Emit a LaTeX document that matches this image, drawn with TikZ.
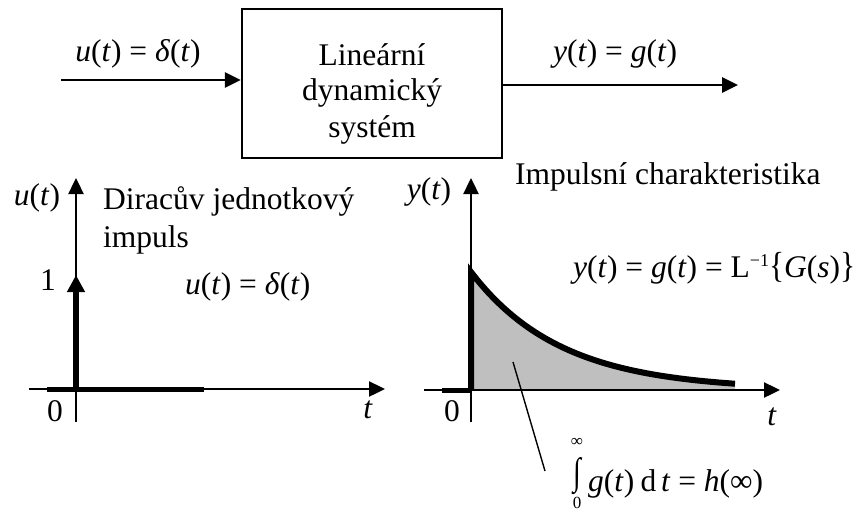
\documentclass[tikz,border=0pt]{standalone}
\usepackage{fontspec}
\usepackage{graphicx}
\setmainfont{Liberation Serif}
\usetikzlibrary{arrows.meta}
\newcommand\vi[1]{\textit{#1}}
\newcommand\qe{\hspace{0.25em}=\hspace{0.25em}}
\newcommand\limfont{\fontsize{17}{19}\selectfont}
\begin{document}
\begin{tikzpicture}[x=1pt,y=-1pt,
  txt/.style={inner sep=0pt, font=\fontsize{31.5}{36}\selectfont},
  arr/.style={line width=2.8pt, -{Triangle[length=16pt,width=15pt]}},
  axis/.style={line width=2.4pt, -{Triangle[length=16pt,width=15pt]}},
  heavy/.style={line width=6pt},
]
\useasboundingbox (0,0) rectangle (862,512);

% ---- block diagram ----
\node[draw, line width=2.5pt, minimum width=260pt, minimum height=149pt, inner sep=0pt] (box) at (372,83.5) {};
\node[txt, anchor=base] (l1) at (372,65) {Lineární};
\node[txt, anchor=base] (l2) at (372,100) {dynamický};
\node[txt, anchor=base] (l3) at (372,137) {systém};
\coordinate (instart) at (61,80);
\coordinate (outend) at (738,85);
\draw[arr] (instart) -- (instart -| box.west);
\draw[arr] (box.east |- outend) -- (outend);
\node[txt, anchor=base] (inlab) at (138,61) {\vi{u}(\vi{t}\/)\qe\vi{δ}(\vi{t}\/)};
\node[txt, anchor=base] (outlab) at (615,61) {\vi{y}(\vi{t}\/)\qe\vi{g}(\vi{t}\/)};

% ---- left plot ----
\coordinate (lo) at (76,389);
\coordinate (lybot) at (76,422);
\coordinate (lytop) at (76,178);
\coordinate (lxl) at (29,389);
\coordinate (lxr) at (385,389);
\coordinate (lsegl) at (47,389);
\coordinate (lsegr) at (204,389);
\coordinate (limp) at (76,275);
\draw[axis] (lybot) -- (lytop);
\draw[axis] (lxl) -- (lxr);
\draw[line width=5pt] (lsegl) -- (lsegr);
\draw[line width=6pt, -{Triangle[length=17pt,width=17pt]}] (lo) -- (limp);
\node[txt, anchor=base] (lu) at (37,205) {\vi{u}(\vi{t}\/)};
\node[txt, anchor=base west] (dir1) at (103,209) {Diracův jednotkový};
\node[txt, anchor=base west] (dir2) at (103,247) {impuls};
\node[txt, anchor=base] (one) at (48,290) {1};
\node[txt, anchor=base west] (ldelta) at (185,294) {\vi{u}(\vi{t}\/)\qe\vi{δ}(\vi{t}\/)};
\node[txt, anchor=base] (lzero) at (55,421) {0};
\node[txt, anchor=base] (lt) at (368,418) {\vi{t}};

% ---- right plot ----
\coordinate (ro) at (471,390);
\coordinate (rybot) at (471,422);
\coordinate (rytop) at (471,178);
\coordinate (rxl) at (424,390);
\coordinate (rxr) at (780,390);
\coordinate (rsegl) at (442,390);
\coordinate (rtop) at (471,272);
\fill[black!25] (ro) -- (rtop) -- plot[domain=0:264, samples=80] ({471+\x},{390-118*exp(-\x/90)}) -- (735,390) -- cycle;
\draw[axis] (rybot) -- (rytop);
\draw[axis] (rxl) -- (rxr);
\draw[line width=5pt] (rsegl) -- (ro);
\draw[heavy, line join=miter] (ro) -- (rtop) -- plot[domain=0:264, samples=80] ({471+\x},{390-118*exp(-\x/90)});
\node[txt, anchor=base west] (imp) at (515,184) {Impulsní charakteristika};
\node[txt, anchor=base] (ry) at (429,199) {\vi{y}(\vi{t}\/)};
\node[txt, anchor=base] (rzero) at (452,421) {0};
\node[txt, anchor=base] (rt) at (772,425) {\vi{t}};
\node[txt, anchor=base west] (laplace) at (573,277) {\vi{y}(\vi{t}\/)\qe\vi{g}(\vi{t}\/)\qe L\raisebox{0.75ex}{\fontsize{18}{18}\selectfont −1}\scalebox{1}[1.15]{\{}\vi{G}(\vi{s})\scalebox{1}[1.15]{\}}};
% integral label
\coordinate (leadA) at (513,362);
\coordinate (leadB) at (545,471);
\draw[line width=1.4pt] (leadA) -- (leadB);
\node[txt, anchor=base] (intsign) at (577,484) {\makebox[0pt]{\raisebox{38pt}{\limfont ∞}}\makebox[0pt]{\raisebox{-24pt}{\limfont 0}}\makebox[0pt]{\scalebox{0.9}[1.2]{∫}}};
\node[txt, anchor=base west] (inttxt) at (588,491) {\vi{g}(\vi{t}\/)\hspace{0.2em}d\hspace{0.15em}\vi{t}\qe\vi{h}(∞)};
\end{tikzpicture}
\end{document}
